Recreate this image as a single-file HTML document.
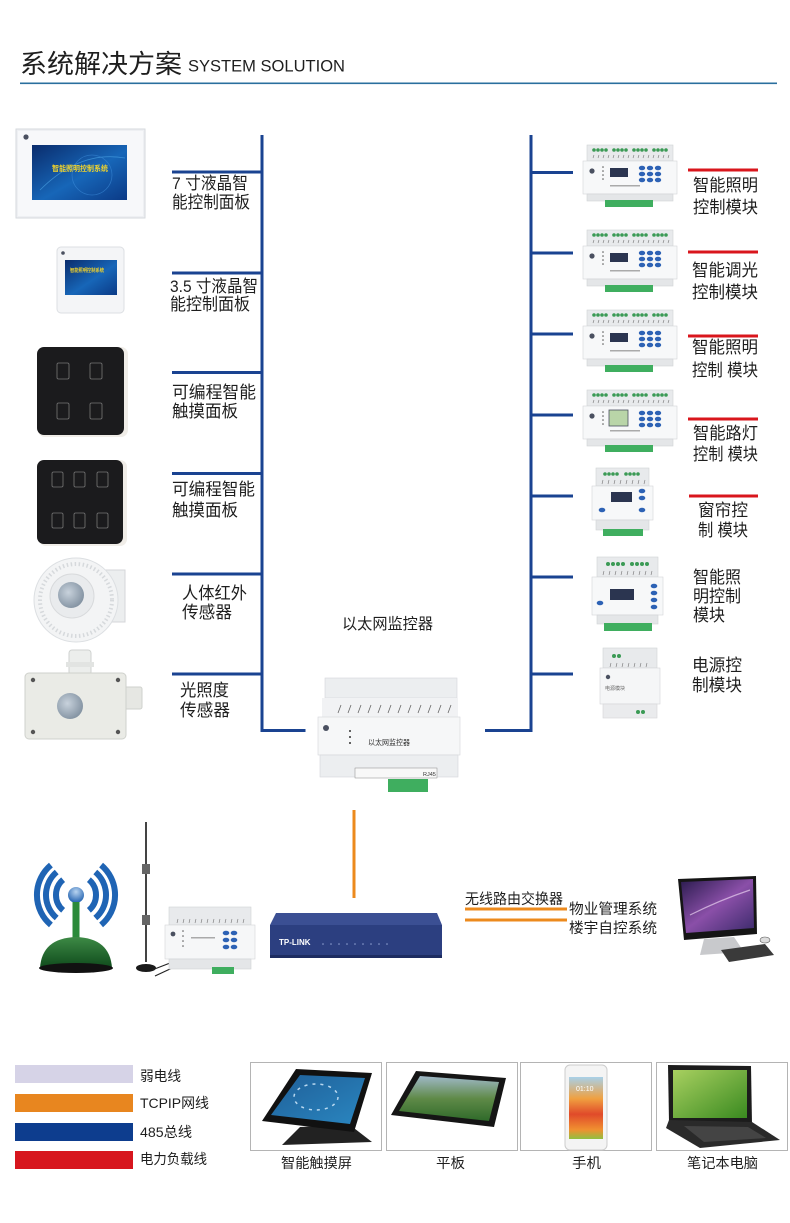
<!DOCTYPE html>
<html><head><meta charset="utf-8"><style>
html,body{margin:0;padding:0;background:#fff;}
svg{display:block;}
text{font-family:"Liberation Sans","Noto Sans CJK SC",sans-serif;fill:#1e1e1e;}
</style></head><body>
<svg width="790" height="1223" viewBox="0 0 790 1223" xmlns="http://www.w3.org/2000/svg">
<defs>
 <linearGradient id="scr" x1="0" y1="0" x2="1" y2="1">
  <stop offset="0" stop-color="#0a2c6c"/><stop offset="0.55" stop-color="#1766b8"/><stop offset="1" stop-color="#0b3a86"/>
 </linearGradient>
 <radialGradient id="lens" cx="0.4" cy="0.4" r="0.7">
  <stop offset="0" stop-color="#c8d2dc"/><stop offset="1" stop-color="#7c8c9c"/>
 </radialGradient>
 <radialGradient id="wdot" cx="0.5" cy="0.3" r="0.7">
  <stop offset="0" stop-color="#b8d4f0"/><stop offset="1" stop-color="#1f5fae"/>
 </radialGradient>
 <linearGradient id="dome" x1="0" y1="0" x2="0" y2="1">
  <stop offset="0" stop-color="#3d8a45"/><stop offset="1" stop-color="#0f4a1c"/>
 </linearGradient>
 <linearGradient id="mon" x1="0" y1="0" x2="1" y2="1">
  <stop offset="0" stop-color="#2a1b4e"/><stop offset="0.5" stop-color="#8a4fa8"/><stop offset="1" stop-color="#3a2a6a"/>
 </linearGradient>
 <linearGradient id="tab2" x1="0" y1="0" x2="0" y2="1">
  <stop offset="0" stop-color="#9fb8c8"/><stop offset="0.5" stop-color="#5f8a48"/><stop offset="1" stop-color="#2f6a2a"/>
 </linearGradient>
 <linearGradient id="phone" x1="0" y1="0" x2="0" y2="1">
  <stop offset="0" stop-color="#a8d0e8"/><stop offset="0.35" stop-color="#f0a040"/><stop offset="0.6" stop-color="#e04a2a"/><stop offset="0.85" stop-color="#f09030"/><stop offset="1" stop-color="#90c040"/>
 </linearGradient>
 <linearGradient id="lap" x1="0" y1="0" x2="1" y2="1">
  <stop offset="0" stop-color="#a8d060"/><stop offset="1" stop-color="#3a8a20"/>
 </linearGradient>
 <linearGradient id="tab1" x1="0" y1="0" x2="1" y2="1">
  <stop offset="0" stop-color="#1f5f98"/><stop offset="1" stop-color="#2a86c0"/>
 </linearGradient>

 <g id="m8">
  <rect x="4" y="0" width="86" height="16" fill="#e8eaec" stroke="#d0d3d6" stroke-width="0.6"/>
  <g fill="#3b9a55">
   <circle cx="11" cy="5" r="1.8"/><circle cx="15" cy="5" r="1.8"/><circle cx="19" cy="5" r="1.8"/><circle cx="23" cy="5" r="1.8"/>
   <circle cx="31" cy="5" r="1.8"/><circle cx="35" cy="5" r="1.8"/><circle cx="39" cy="5" r="1.8"/><circle cx="43" cy="5" r="1.8"/>
   <circle cx="51" cy="5" r="1.8"/><circle cx="55" cy="5" r="1.8"/><circle cx="59" cy="5" r="1.8"/><circle cx="63" cy="5" r="1.8"/>
   <circle cx="71" cy="5" r="1.8"/><circle cx="75" cy="5" r="1.8"/><circle cx="79" cy="5" r="1.8"/><circle cx="83" cy="5" r="1.8"/>
  </g>
  <path d="M10 13l1-3M15 13l1-3M20 13l1-3M25 13l1-3M30 13l1-3M35 13l1-3M40 13l1-3M45 13l1-3M50 13l1-3M55 13l1-3M60 13l1-3M65 13l1-3M70 13l1-3M75 13l1-3M80 13l1-3M85 13l1-3" stroke="#777" stroke-width="0.6"/>
  <rect x="0" y="16" width="94" height="33" fill="#f7f8f9" stroke="#d4d6d8" stroke-width="0.6"/>
  <circle cx="9" cy="26" r="2.6" fill="#4a5060"/>
  <g fill="#555"><circle cx="20" cy="22" r="0.8"/><circle cx="20" cy="26" r="0.8"/><circle cx="20" cy="30" r="0.8"/><circle cx="20" cy="34" r="0.8"/></g>
  <rect x="27" y="23" width="18" height="9" fill="#2b3550"/>
  <rect x="27" y="40" width="30" height="1.5" fill="#aaa"/>
  <g fill="#2d62b5">
   <ellipse cx="59" cy="23" rx="3.2" ry="2.3"/><ellipse cx="67" cy="23" rx="3.2" ry="2.3"/><ellipse cx="75" cy="23" rx="3.2" ry="2.3"/>
   <ellipse cx="59" cy="29" rx="3.2" ry="2.3"/><ellipse cx="67" cy="29" rx="3.2" ry="2.3"/><ellipse cx="75" cy="29" rx="3.2" ry="2.3"/>
   <ellipse cx="59" cy="35" rx="3.2" ry="2.3"/><ellipse cx="67" cy="35" rx="3.2" ry="2.3"/><ellipse cx="75" cy="35" rx="3.2" ry="2.3"/>
  </g>
  <rect x="4" y="49" width="86" height="7" fill="#e4e6e8" stroke="#d0d3d6" stroke-width="0.6"/>
  <rect x="22" y="55" width="48" height="7" fill="#3fae5f"/>
 </g>
</defs>

<!-- header -->
<text x="20" y="73" font-size="26" textLength="162" lengthAdjust="spacingAndGlyphs" fill="#2b2b2b">系统解决方案</text>
<text x="188" y="71.5" font-size="17" textLength="157" lengthAdjust="spacingAndGlyphs" fill="#333">SYSTEM SOLUTION</text>
<rect x="20" y="82.5" width="757" height="1.6" fill="#2a6f9e"/>

<!-- buses -->
<g fill="#1a4391">
 <rect x="260.5" y="135" width="3" height="597"/>
 <rect x="260.5" y="729" width="45" height="3"/>
 <rect x="172" y="170.5" width="90" height="3"/>
 <rect x="172" y="271.5" width="90" height="3"/>
 <rect x="172" y="371" width="90" height="3"/>
 <rect x="172" y="472" width="90" height="3"/>
 <rect x="172" y="572.5" width="90" height="3"/>
 <rect x="172" y="672.5" width="90" height="3"/>
 <rect x="529.5" y="135" width="3" height="597"/>
 <rect x="485" y="729" width="47" height="3"/>
 <rect x="531" y="171" width="42" height="3"/>
 <rect x="531" y="251.5" width="42" height="3"/>
 <rect x="531" y="332.5" width="42" height="3"/>
 <rect x="531" y="413.5" width="42" height="3"/>
 <rect x="531" y="494.5" width="42" height="3"/>
 <rect x="531" y="575.5" width="42" height="3"/>
 <rect x="531" y="672.5" width="42" height="3"/>
</g>
<g fill="#d9161c">
 <rect x="688" y="168.5" width="70" height="3"/>
 <rect x="688" y="250.5" width="70" height="3"/>
 <rect x="688" y="334.5" width="70" height="3"/>
 <rect x="688" y="417.5" width="70" height="3"/>
 <rect x="689" y="494.5" width="69" height="3"/>
</g>

<!-- left devices -->
<rect x="16" y="129" width="129" height="89" fill="#eef0f3" stroke="#d6d9de"/>
<rect x="18" y="131" width="125" height="85" fill="#f7f8fa"/>
<circle cx="26" cy="137" r="2.6" fill="#4a5060"/>
<rect x="32" y="145" width="95" height="55" fill="url(#scr)"/>
<path d="M40 190 Q80 150 125 158" stroke="#4fa8e8" stroke-width="0.8" fill="none" opacity="0.6"/>
<circle cx="92" cy="175" r="20" fill="none" stroke="#3c8ad8" stroke-width="0.8" opacity="0.6"/>
<text x="52" y="171" font-size="7.5" textLength="56" lengthAdjust="spacingAndGlyphs" style="fill:#f2d32a;font-weight:bold">智能照明控制系统</text>

<rect x="57" y="247" width="67" height="66" rx="4" fill="#f4f5f7" stroke="#dcdfe3"/>
<circle cx="63" cy="253" r="1.8" fill="#4a5060"/>
<rect x="65" y="260" width="52" height="35" fill="url(#scr)"/>
<text x="70" y="272" font-size="5" textLength="34" lengthAdjust="spacingAndGlyphs" style="fill:#f2d32a;font-weight:bold">智能照明控制系统</text>

<rect x="38" y="347" width="90" height="90" rx="7" fill="#f0ede8"/>
<rect x="37" y="347" width="87" height="88" rx="7" fill="#1b1b1d"/>
<g fill="none" stroke="#777" stroke-width="0.8">
 <rect x="57" y="363" width="12" height="16" rx="1.5"/><rect x="90" y="363" width="12" height="16" rx="1.5"/>
 <rect x="57" y="403" width="12" height="16" rx="1.5"/><rect x="90" y="403" width="12" height="16" rx="1.5"/>
</g>

<rect x="39" y="460" width="88" height="86" rx="7" fill="#f0ede8"/>
<rect x="37" y="460" width="86" height="84" rx="7" fill="#1b1b1d"/>
<g fill="none" stroke="#777" stroke-width="0.8">
 <rect x="52" y="472" width="11" height="15" rx="1.5"/><rect x="74" y="472" width="11" height="15" rx="1.5"/><rect x="97" y="472" width="11" height="15" rx="1.5"/>
 <rect x="52" y="513" width="11" height="15" rx="1.5"/><rect x="74" y="513" width="11" height="15" rx="1.5"/><rect x="97" y="513" width="11" height="15" rx="1.5"/>
</g>

<!-- PIR -->
<rect x="104" y="570" width="21" height="52" fill="#eceeef" stroke="#d4d6d8"/>
<rect x="110" y="596" width="4" height="18" fill="#666"/>
<circle cx="76" cy="600" r="42" fill="#f3f4f5" stroke="#dcdfe2"/>
<circle cx="76" cy="600" r="36" fill="none" stroke="#d6d9dc" stroke-width="4" stroke-dasharray="1.5 2.5"/>
<circle cx="72" cy="596" r="22" fill="#e9ebed" stroke="#d8dadc"/>
<circle cx="71" cy="595" r="13" fill="url(#lens)"/>

<!-- light sensor -->
<rect x="69" y="650" width="22" height="25" rx="3" fill="#eceeec" stroke="#cfd2d0"/>
<rect x="66" y="662" width="28" height="5" fill="#e2e4e2"/>
<rect x="122" y="687" width="20" height="22" rx="2" fill="#e6e7e3" stroke="#cfd1cd"/>
<rect x="25" y="673" width="101" height="66" rx="4" fill="#eaebe6" stroke="#cfd1cc"/>
<g fill="#555"><circle cx="33" cy="680" r="2.2"/><circle cx="118" cy="680" r="2.2"/><circle cx="33" cy="732" r="2.2"/><circle cx="118" cy="732" r="2.2"/></g>
<circle cx="70" cy="706" r="13" fill="url(#lens)"/>

<!-- left labels -->
<g font-size="17">
 <text x="172" y="189" textLength="76" lengthAdjust="spacingAndGlyphs">7 寸液晶智</text>
 <text x="172" y="208" textLength="78" lengthAdjust="spacingAndGlyphs">能控制面板</text>
 <text x="170" y="292" textLength="88" lengthAdjust="spacingAndGlyphs">3.5 寸液晶智</text>
 <text x="170" y="310" textLength="80" lengthAdjust="spacingAndGlyphs">能控制面板</text>
 <text x="172" y="398" textLength="84" lengthAdjust="spacingAndGlyphs">可编程智能</text>
 <text x="172" y="417" textLength="66" lengthAdjust="spacingAndGlyphs">触摸面板</text>
 <text x="172" y="495" textLength="83" lengthAdjust="spacingAndGlyphs">可编程智能</text>
 <text x="172" y="516" textLength="66" lengthAdjust="spacingAndGlyphs">触摸面板</text>
 <text x="182" y="599" textLength="65" lengthAdjust="spacingAndGlyphs">人体红外</text>
 <text x="182" y="618" textLength="50" lengthAdjust="spacingAndGlyphs">传感器</text>
 <text x="180" y="696" textLength="49" lengthAdjust="spacingAndGlyphs">光照度</text>
 <text x="180" y="716" textLength="50" lengthAdjust="spacingAndGlyphs">传感器</text>
</g>

<!-- right modules -->
<use href="#m8" x="583" y="145"/>
<use href="#m8" x="583" y="230"/>
<use href="#m8" x="583" y="310"/>
<use href="#m8" x="583" y="390"/>
<rect x="609" y="410" width="19" height="16" fill="#b9d5a8" stroke="#4a5060" stroke-width="0.8"/>

<!-- window module -->
<g transform="translate(592,468)">
 <rect x="4" y="0" width="53" height="18" fill="#e8eaec" stroke="#d0d3d6" stroke-width="0.6"/>
 <g fill="#3b9a55"><circle cx="13" cy="6" r="1.8"/><circle cx="17" cy="6" r="1.8"/><circle cx="21" cy="6" r="1.8"/><circle cx="25" cy="6" r="1.8"/><circle cx="34" cy="6" r="1.8"/><circle cx="38" cy="6" r="1.8"/><circle cx="42" cy="6" r="1.8"/><circle cx="46" cy="6" r="1.8"/></g>
 <path d="M10 16l1-4M16 16l1-4M22 16l1-4M28 16l1-4M34 16l1-4M40 16l1-4M46 16l1-4M52 16l1-4" stroke="#777" stroke-width="0.6"/>
 <rect x="0" y="18" width="61" height="34" fill="#f7f8f9" stroke="#d4d6d8" stroke-width="0.6"/>
 <rect x="19" y="24" width="21" height="10" fill="#2b3550"/>
 <g fill="#2d62b5"><ellipse cx="50" cy="23" rx="3.3" ry="2.3"/><ellipse cx="50" cy="30" rx="3.3" ry="2.3"/><ellipse cx="50" cy="42" rx="3.3" ry="2.3"/><ellipse cx="10" cy="42" rx="3.3" ry="2.3"/></g>
 <rect x="4" y="52" width="53" height="10" fill="#e4e6e8" stroke="#d0d3d6" stroke-width="0.6"/>
 <rect x="11" y="61" width="40" height="7" fill="#3fae5f"/>
</g>
<!-- lighting module 6 -->
<g transform="translate(592,557)">
 <rect x="5" y="0" width="61" height="20" fill="#e8eaec" stroke="#d0d3d6" stroke-width="0.6"/>
 <g fill="#3b9a55"><circle cx="16" cy="7" r="2"/><circle cx="21" cy="7" r="2"/><circle cx="26" cy="7" r="2"/><circle cx="31" cy="7" r="2"/><circle cx="40" cy="7" r="2"/><circle cx="45" cy="7" r="2"/><circle cx="50" cy="7" r="2"/><circle cx="55" cy="7" r="2"/></g>
 <path d="M11 18l1-4M17 18l1-4M23 18l1-4M29 18l1-4M35 18l1-4M41 18l1-4M47 18l1-4M53 18l1-4M59 18l1-4" stroke="#777" stroke-width="0.6"/>
 <rect x="0" y="20" width="71" height="38" fill="#f7f8f9" stroke="#d4d6d8" stroke-width="0.6"/>
 <rect x="18" y="32" width="24" height="11" fill="#2b3550"/>
 <g fill="#2d62b5"><ellipse cx="62" cy="29" rx="3.3" ry="2.3"/><ellipse cx="62" cy="36" rx="3.3" ry="2.3"/><ellipse cx="62" cy="43" rx="3.3" ry="2.3"/><ellipse cx="62" cy="50" rx="3.3" ry="2.3"/><ellipse cx="8" cy="46" rx="3.3" ry="2.3"/></g>
 <rect x="5" y="58" width="61" height="9" fill="#e4e6e8" stroke="#d0d3d6" stroke-width="0.6"/>
 <rect x="12" y="66" width="48" height="8" fill="#3fae5f"/>
</g>
<!-- power module -->
<g transform="translate(600,648)">
 <rect x="3" y="0" width="54" height="20" fill="#e8eaec" stroke="#d0d3d6" stroke-width="0.6"/>
 <g fill="#3b9a55"><circle cx="14" cy="8" r="2"/><circle cx="19" cy="8" r="2"/></g>
 <path d="M10 19l1-4M16 19l1-4M22 19l1-4M28 19l1-4M34 19l1-4M40 19l1-4M46 19l1-4" stroke="#777" stroke-width="0.6"/>
 <rect x="0" y="20" width="60" height="36" fill="#f5f6f7" stroke="#d4d6d8" stroke-width="0.6"/>
 <circle cx="8" cy="29" r="2.2" fill="#4a5060"/>
 <text x="5" y="42" font-size="5" style="fill:#666">电源模块</text>
 <rect x="3" y="56" width="54" height="14" fill="#eaebed" stroke="#d4d6d8" stroke-width="0.6"/>
 <g fill="#3b9a55"><circle cx="38" cy="64" r="2"/><circle cx="43" cy="64" r="2"/></g>
</g>

<!-- right labels -->
<g font-size="17">
 <text x="693" y="191" textLength="65" lengthAdjust="spacingAndGlyphs">智能照明</text>
 <text x="693" y="213" textLength="65" lengthAdjust="spacingAndGlyphs">控制模块</text>
 <text x="692" y="276" textLength="66" lengthAdjust="spacingAndGlyphs">智能调光</text>
 <text x="692" y="298" textLength="66" lengthAdjust="spacingAndGlyphs">控制模块</text>
 <text x="692" y="353" textLength="66" lengthAdjust="spacingAndGlyphs">智能照明</text>
 <text x="692" y="376" textLength="66" lengthAdjust="spacingAndGlyphs">控制 模块</text>
 <text x="693" y="439" textLength="65" lengthAdjust="spacingAndGlyphs">智能路灯</text>
 <text x="693" y="460" textLength="65" lengthAdjust="spacingAndGlyphs">控制 模块</text>
 <text x="698" y="516" textLength="50" lengthAdjust="spacingAndGlyphs">窗帘控</text>
 <text x="698" y="536" textLength="50" lengthAdjust="spacingAndGlyphs">制 模块</text>
 <text x="693" y="583" textLength="48" lengthAdjust="spacingAndGlyphs">智能照</text>
 <text x="693" y="602" textLength="48" lengthAdjust="spacingAndGlyphs">明控制</text>
 <text x="693" y="621" textLength="32" lengthAdjust="spacingAndGlyphs">模块</text>
 <text x="692" y="671" textLength="50" lengthAdjust="spacingAndGlyphs">电源控</text>
 <text x="692" y="691" textLength="50" lengthAdjust="spacingAndGlyphs">制模块</text>
</g>

<!-- ethernet controller -->
<text x="342" y="629" font-size="15.5" textLength="91" lengthAdjust="spacingAndGlyphs">以太网监控器</text>
<g>
 <rect x="325" y="678" width="132" height="20" fill="#eceef0" stroke="#d4d6d9" stroke-width="0.6"/>
 <rect x="322" y="698" width="136" height="19" fill="#f1f2f4"/>
 <path d="M338 713l3-8M348 713l3-8M358 713l3-8M368 713l3-8M378 713l3-8M388 713l3-8M398 713l3-8M408 713l3-8M418 713l3-8M428 713l3-8M438 713l3-8M448 713l3-8" stroke="#666" stroke-width="0.8"/>
 <rect x="318" y="717" width="142" height="38" fill="#f6f7f8" stroke="#d4d6d9" stroke-width="0.6"/>
 <circle cx="326" cy="728" r="3" fill="#4a5060"/>
 <g fill="#333"><circle cx="350" cy="731" r="1"/><circle cx="350" cy="737" r="1"/><circle cx="350" cy="743" r="1"/></g>
 <text x="368" y="745" font-size="7.5" textLength="42" lengthAdjust="spacingAndGlyphs" style="fill:#333">以太网监控器</text>
 <rect x="320" y="755" width="138" height="22" fill="#eceef0" stroke="#d4d6d9" stroke-width="0.6"/>
 <rect x="355" y="768" width="82" height="10" fill="#f8f8f8" stroke="#888" stroke-width="0.5"/>
 <text x="423" y="776" font-size="5.5" style="fill:#333">RJ45</text>
 <rect x="388" y="779" width="40" height="13" fill="#3fae5f"/>
</g>

<!-- orange lines -->
<rect x="352.5" y="810" width="3" height="88" fill="#ec8a1d"/>
<rect x="465" y="907.5" width="102" height="3" fill="#ec8a1d"/>
<rect x="465" y="918.5" width="102" height="3" fill="#ec8a1d"/>

<!-- wifi icon -->
<g fill="none" stroke="#1f64b4" stroke-width="6" stroke-linecap="butt">
 <path d="M63.1 879.7 A20 20 0 0 0 63.1 910.3"/>
 <path d="M88.9 879.7 A20 20 0 0 1 88.9 910.3"/>
 <path d="M56.7 872 A30 30 0 0 0 56.7 918"/>
 <path d="M95.3 872 A30 30 0 0 1 95.3 918"/>
 <path d="M50.9 865.1 A39 39 0 0 0 50.9 924.9"/>
 <path d="M101.1 865.1 A39 39 0 0 1 101.1 924.9"/>
</g>
<circle cx="76" cy="895" r="8" fill="url(#wdot)"/>
<rect x="72.5" y="902" width="7" height="40" fill="#2b8a3a"/>
<path d="M40 968 Q42 938 76 937 Q110 938 112 968 Z" fill="url(#dome)"/>
<ellipse cx="76" cy="968" rx="37" ry="5" fill="#111"/>

<!-- antenna + wireless module -->
<rect x="145" y="822" width="2" height="140" fill="#444"/>
<rect x="142" y="864" width="8" height="10" fill="#666"/>
<rect x="142" y="915" width="8" height="10" fill="#666"/>
<ellipse cx="146" cy="968" rx="10" ry="4" fill="#1a1a1a"/>
<path d="M152 970 L183 958 M155 976 L185 962" stroke="#222" stroke-width="1.2" fill="none"/>
<g transform="translate(165,907)">
 <rect x="4" y="0" width="82" height="18" fill="#e8eaec" stroke="#d0d3d6" stroke-width="0.6"/>
 <path d="M12 16l1-4M18 16l1-4M24 16l1-4M30 16l1-4M36 16l1-4M42 16l1-4M48 16l1-4M54 16l1-4M60 16l1-4M66 16l1-4M72 16l1-4M78 16l1-4" stroke="#777" stroke-width="0.6"/>
 <rect x="0" y="18" width="90" height="34" fill="#f6f7f8" stroke="#d4d6d8" stroke-width="0.6"/>
 <circle cx="8" cy="27" r="2.4" fill="#4a5060"/>
 <g fill="#555"><circle cx="18" cy="24" r="0.8"/><circle cx="18" cy="29" r="0.8"/><circle cx="18" cy="34" r="0.8"/><circle cx="18" cy="39" r="0.8"/></g>
 <rect x="26" y="30" width="24" height="1.5" fill="#aaa"/>
 <g fill="#2d62b5"><ellipse cx="61" cy="26" rx="3.3" ry="2.3"/><ellipse cx="69" cy="26" rx="3.3" ry="2.3"/><ellipse cx="61" cy="33" rx="3.3" ry="2.3"/><ellipse cx="69" cy="33" rx="3.3" ry="2.3"/><ellipse cx="61" cy="40" rx="3.3" ry="2.3"/><ellipse cx="69" cy="40" rx="3.3" ry="2.3"/></g>
 <rect x="4" y="52" width="82" height="10" fill="#e4e6e8" stroke="#d0d3d6" stroke-width="0.6"/>
 <rect x="47" y="60" width="22" height="7" fill="#3fae5f"/>
</g>

<!-- router -->
<polygon points="276,913 437,913 442,925 270,925" fill="#3b4f93"/>
<rect x="270" y="925" width="172" height="32" fill="#2c3f80"/>
<rect x="270" y="955" width="172" height="3" fill="#1d2c60"/>
<text x="279" y="945" font-size="8" style="fill:#fff;font-weight:bold">TP-LINK</text>
<g fill="#8fa0d0"><circle cx="323" cy="944" r="0.8"/><circle cx="331" cy="944" r="0.8"/><circle cx="339" cy="944" r="0.8"/><circle cx="347" cy="944" r="0.8"/><circle cx="355" cy="944" r="0.8"/><circle cx="363" cy="944" r="0.8"/><circle cx="371" cy="944" r="0.8"/><circle cx="379" cy="944" r="0.8"/><circle cx="387" cy="944" r="0.8"/></g>

<!-- labels right of router -->
<text x="465" y="904" font-size="14.5" textLength="98" lengthAdjust="spacingAndGlyphs">无线路由交换器</text>
<text x="569" y="914" font-size="14.5" textLength="88" lengthAdjust="spacingAndGlyphs">物业管理系统</text>
<text x="569" y="933" font-size="14.5" textLength="88" lengthAdjust="spacingAndGlyphs">楼宇自控系统</text>

<!-- desktop computer -->
<polygon points="678,879 756,876 757,934 684,940" fill="#151515"/>
<polygon points="681,882 753,879 754,928 686,933" fill="url(#mon)"/>
<path d="M690 915 Q720 900 750 890" stroke="#e8d0f0" stroke-width="1.2" fill="none" opacity="0.7"/>
<polygon points="704,939 734,937 744,952 700,955" fill="#c8c9cc"/>
<polygon points="721,950 765,944 774,955 729,962" fill="#3a3a3a"/>
<ellipse cx="765" cy="940" rx="5" ry="3" fill="#ddd" stroke="#555" stroke-width="0.6"/>

<!-- legend -->
<rect x="15" y="1065" width="118" height="18" fill="#d6d3e7"/>
<rect x="15" y="1094" width="118" height="18" fill="#e8861f"/>
<rect x="15" y="1123" width="118" height="18" fill="#0d3d8e"/>
<rect x="15" y="1151" width="118" height="18" fill="#d7161e"/>
<g font-size="14">
 <text x="140" y="1081" textLength="41" lengthAdjust="spacingAndGlyphs">弱电线</text>
 <text x="140" y="1108" textLength="69" lengthAdjust="spacingAndGlyphs">TCPIP网线</text>
 <text x="140" y="1137" textLength="52" lengthAdjust="spacingAndGlyphs">485总线</text>
 <text x="140" y="1164" textLength="67" lengthAdjust="spacingAndGlyphs">电力负载线</text>
</g>

<!-- device boxes -->
<g fill="#fff" stroke="#b4b4b4" stroke-width="1">
 <rect x="250.5" y="1062.5" width="131" height="88"/>
 <rect x="386.5" y="1062.5" width="131" height="88"/>
 <rect x="520.5" y="1062.5" width="131" height="88"/>
 <rect x="656.5" y="1062.5" width="131" height="88"/>
</g>
<!-- touch screen -->
<polygon points="300,1127 350,1125 372,1142 282,1145" fill="#222"/>
<polygon points="296,1069 372,1073 354,1132 262,1121" fill="#111"/>
<polygon points="300,1075 365,1078 350,1124 271,1115" fill="url(#tab1)"/>
<ellipse cx="316" cy="1097" rx="22" ry="13" fill="none" stroke="#b8d8f0" stroke-width="1.5" stroke-dasharray="3 5"/>
<!-- tablet -->
<polygon points="416,1071 506,1078 494,1127 391,1115" fill="#151515"/>
<polygon points="420,1076 499,1082 489,1121 399,1111" fill="url(#tab2)"/>
<!-- phone -->
<rect x="565" y="1065" width="42" height="85" rx="5" fill="#f4f4f4" stroke="#ccc"/>
<rect x="569" y="1077" width="34" height="62" fill="url(#phone)"/>
<text x="576" y="1091" font-size="7" style="fill:#fff">01:10</text>
<!-- laptop -->
<polygon points="668,1065 751,1066 752,1124 669,1122" fill="#1c1c1c"/>
<rect x="673" y="1070" width="74" height="48" fill="url(#lap)"/>
<polygon points="669,1120 752,1122 780,1140 700,1148 666,1128" fill="#2a2a2a"/>
<polygon points="684,1126 748,1127 766,1138 704,1142" fill="#444"/>

<g font-size="14">
 <text x="281" y="1168" textLength="71" lengthAdjust="spacingAndGlyphs">智能触摸屏</text>
 <text x="436" y="1168" textLength="29" lengthAdjust="spacingAndGlyphs">平板</text>
 <text x="572" y="1168" textLength="29" lengthAdjust="spacingAndGlyphs">手机</text>
 <text x="687" y="1168" textLength="71" lengthAdjust="spacingAndGlyphs">笔记本电脑</text>
</g>
</svg>
</body></html>
